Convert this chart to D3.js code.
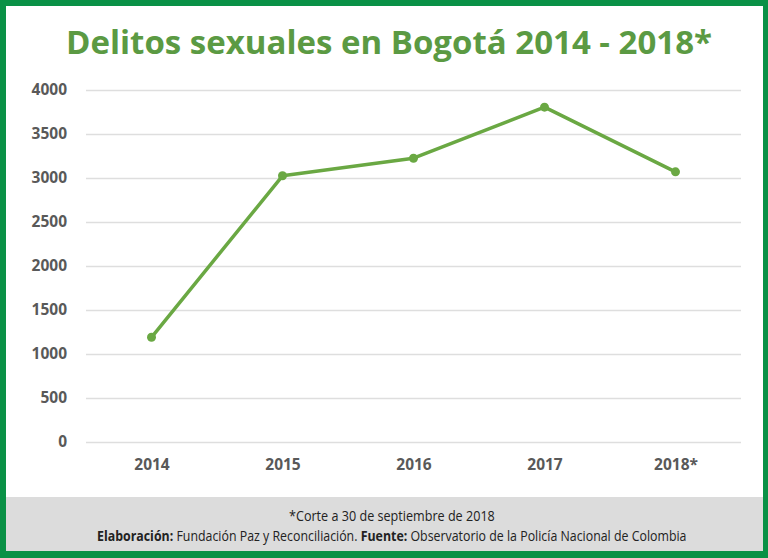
<!DOCTYPE html>
<html><head><meta charset="utf-8">
<script src="https://cdn.jsdelivr.net/npm/d3@7"></script>
<style>html,body{margin:0;padding:0;background:#fff;}svg{display:block;}</style>
</head><body>
<script>
const years = ["2014","2015","2016","2017","2018*"];
const values = [1190, 3025, 3225, 3805, 3070];
const yTicks = [0,500,1000,1500,2000,2500,3000,3500,4000];
const title = "Delitos sexuales en Bogotá 2014 - 2018*";
const note = "*Corte a 30 de septiembre de 2018";

const W = 768, H = 558;
const svg = d3.select("body").append("svg").attr("width", W).attr("height", H);

svg.append("rect").attr("x",0).attr("y",0).attr("width",W).attr("height",H).attr("fill","#0a9146");
svg.append("rect").attr("x",6).attr("y",6).attr("width",757).attr("height",545).attr("fill","#ffffff");
svg.append("rect").attr("x",6).attr("y",497).attr("width",757).attr("height",54).attr("fill","#dcdcdc");

svg.append("text").attr("x",389).attr("y",54).attr("text-anchor","middle")
  .attr("font-family","'Open Sans', sans-serif").attr("font-weight","bold").attr("font-size",33)
  .attr("textLength",646).attr("lengthAdjust","spacingAndGlyphs")
  .attr("fill","#5b9a43").text(title);

const x = d3.scalePoint().domain(years).range([86,741]).padding(0.5);
const y = d3.scaleLinear().domain([0,4000]).range([442,90]);

const gy = svg.append("g").attr("transform","translate(86,0)")
  .call(d3.axisLeft(y).tickValues(yTicks).tickSize(-655).tickPadding(19).tickFormat(d3.format("d")));
gy.select(".domain").remove();
gy.selectAll(".tick line").attr("stroke","#dedede").attr("stroke-width",1.5);
gy.selectAll(".tick text").attr("font-family","'Open Sans', sans-serif").attr("font-weight","bold")
  .attr("font-size",15.5).attr("fill","#595959");

const gx = svg.append("g").attr("transform","translate(0,442)")
  .call(d3.axisBottom(x).tickSize(0).tickPadding(17));
gx.select(".domain").remove();
gx.selectAll(".tick text").attr("font-family","'Open Sans', sans-serif").attr("font-weight","bold")
  .attr("font-size",15.5).attr("fill","#595959");

const line = d3.line().x((d,i)=>x(years[i])).y(d=>y(d));
svg.append("path").datum(values).attr("d",line).attr("fill","none")
  .attr("stroke","#6aa843").attr("stroke-width",3.5).attr("stroke-linejoin","round");
svg.selectAll("circle.pt").data(values).enter().append("circle").attr("class","pt")
  .attr("cx",(d,i)=>x(years[i])).attr("cy",d=>y(d)).attr("r",4.5).attr("fill","#6aa843");

function fitLine(yPos, targetW, parts){
  const g = svg.append("g");
  const t = g.append("text").attr("x",0).attr("y",0)
    .attr("font-family","'Open Sans', sans-serif").attr("font-size",14).attr("fill","#222");
  parts.forEach(p => t.append("tspan").attr("font-weight", p[1] ? "bold" : "normal").text(p[0]));
  const len = t.node().getComputedTextLength();
  const s = targetW / len;
  g.attr("transform", `translate(${392 - targetW/2},${yPos}) scale(${s},1)`);
}
fitLine(521, 206, [[note,false]]);
fitLine(541, 590, [["Elaboración:",true],[" Fundación Paz y Reconciliación. ",false],["Fuente:",true],[" Observatorio de la Policía Nacional de Colombia",false]]);
</script>
</body></html>
